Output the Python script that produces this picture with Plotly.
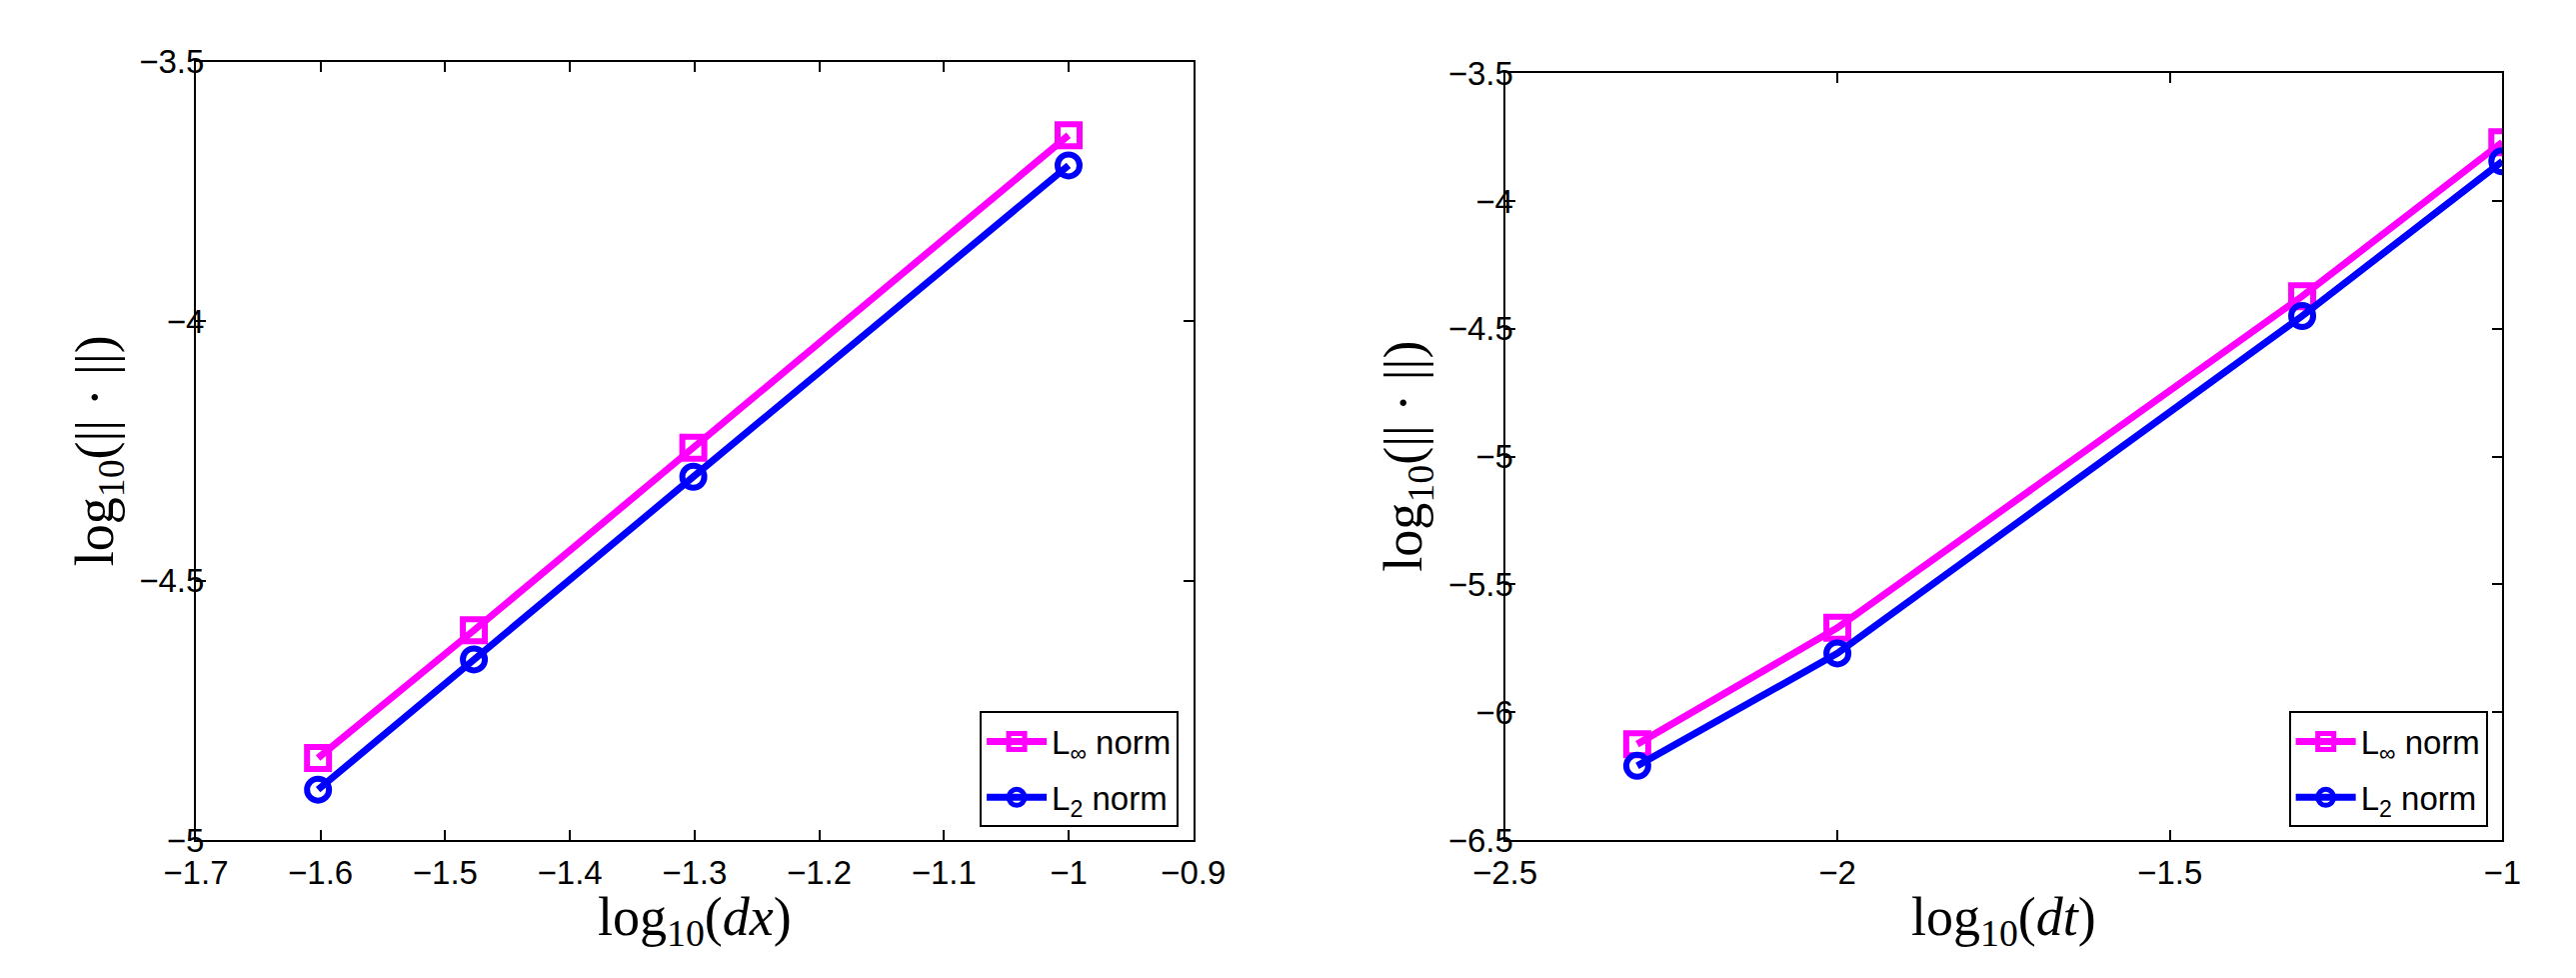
import plotly.graph_objects as go
from plotly.subplots import make_subplots

# ---- data ----
log_dx = [-1.602, -1.477, -1.301, -1.0]
space_linf = [-4.842, -4.596, -4.244, -3.642]
space_l2 = [-4.903, -4.652, -4.300, -3.700]

log_dt = [-2.301, -2.0, -1.301, -1.0]
time_linf = [-6.125, -5.670, -4.373, -3.770]
time_l2 = [-6.210, -5.770, -4.450, -3.845]

series_names = ["L<sub>∞</sub> norm", "L<sub>2</sub> norm"]

W, H = 2577, 978
MAG = "#FF00FF"
BLU = "#0000FF"
SANS = "Liberation Sans, Arial, sans-serif"
SERIF = "Liberation Serif, Times New Roman, serif"

fig = make_subplots(rows=1, cols=2)

def add_pair(x, y1, y2, col, legend):
    fig.add_trace(go.Scatter(
        x=x, y=y1, name=series_names[0], mode="lines+markers",
        line=dict(color=MAG, width=7),
        marker=dict(symbol="square-open", size=22, color=MAG, line=dict(width=6, color=MAG)),
        legend=legend, legendgroup=legend + "a",
    ), row=1, col=col)
    fig.add_trace(go.Scatter(
        x=x, y=y2, name=series_names[1], mode="lines+markers",
        line=dict(color=BLU, width=7),
        marker=dict(symbol="circle-open", size=22, color=BLU, line=dict(width=6, color=BLU)),
        legend=legend, legendgroup=legend + "b",
    ), row=1, col=col)

add_pair(log_dx, space_linf, space_l2, 1, "legend")
add_pair(log_dt, time_linf, time_l2, 2, "legend2")

# plot-area geometry in pixels
L1, R1 = 159, 1183
L2, R2 = 1503, 2527
T1, T2, B = 37, 49, 846

axis_common = dict(
    showline=True, linewidth=2, linecolor="black", mirror="ticks",
    ticks="inside", ticklen=10, tickwidth=2, tickcolor="black",
    showgrid=False, zeroline=False,
    tickfont=dict(family=SANS, size=33, color="black"),
)

fig.update_xaxes(axis_common)
fig.update_yaxes(axis_common)

fig.update_layout(
    xaxis=dict(domain=[L1 / W, R1 / W], range=[-1.7, -0.9], tick0=-1.7, dtick=0.1,
               ticklabelstandoff=2),
    yaxis=dict(domain=[1 - B / H, 1 - T1 / H], range=[-5, -3.5], tick0=-5, dtick=0.5,
               ticklabelstandoff=-17),
    xaxis2=dict(domain=[L2 / W, R2 / W], range=[-2.5, -1], tick0=-2.5, dtick=0.5,
                ticklabelstandoff=2),
    yaxis2=dict(domain=[1 - B / H, 1 - T2 / H], range=[-6.5, -3.5], tick0=-6.5, dtick=0.5,
                ticklabelstandoff=-17),
    width=W, height=H,
    margin=dict(l=0, r=0, t=0, b=0),
    paper_bgcolor="white", plot_bgcolor="white",
    legend=dict(x=1168 / W, y=1 - 833 / H, xanchor="right", yanchor="bottom",
                bordercolor="black", borderwidth=2, bgcolor="white",
                font=dict(family=SANS, size=33, color="black"),
                itemwidth=60, tracegroupgap=10),
    legend2=dict(x=2512 / W, y=1 - 833 / H, xanchor="right", yanchor="bottom",
                 bordercolor="black", borderwidth=2, bgcolor="white",
                 font=dict(family=SANS, size=33, color="black"),
                 itemwidth=60, tracegroupgap=10),
)

# axis titles
title_font = dict(family=SERIF, size=54, color="black")
ylab = "log<sub>10</sub>(|| · ||)"
for xc, yc, xt in [((L1 + R1) / 2, (T1 + B) / 2, "log<sub>10</sub>(<i>dx</i>)"),
                   ((L2 + R2) / 2, (T2 + B) / 2, "log<sub>10</sub>(<i>dt</i>)")]:
    fig.add_annotation(text=xt, xref="paper", yref="paper", x=xc / W, y=1 - 930 / H,
                       xanchor="center", yanchor="middle", showarrow=False, font=title_font)
for xc, yc in [(L1 - 100, (T1 + B) / 2), (L2 - 100, (T2 + B) / 2)]:
    fig.add_annotation(text=ylab, xref="paper", yref="paper", x=xc / W, y=1 - yc / H,
                       xanchor="center", yanchor="middle", textangle=-90,
                       showarrow=False, font=title_font)

fig.write_html("out.html")
